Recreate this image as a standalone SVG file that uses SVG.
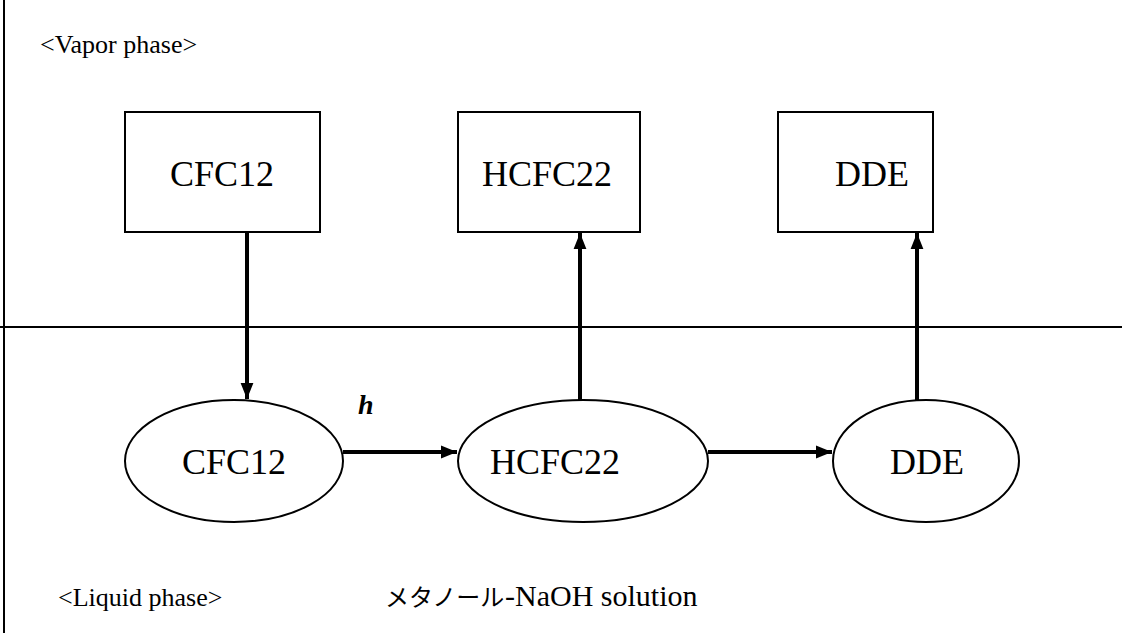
<svg xmlns="http://www.w3.org/2000/svg" width="1122" height="633" viewBox="0 0 1122 633">
<defs>
<style>
.box{fill:#fff;stroke:#000;stroke-width:2}
.lab{font-family:'Liberation Serif','Times New Roman',serif;font-size:26px;fill:#000}
.nd{font-size:36px}
.nao{font-size:30px}
.hh{font-size:28px;font-weight:bold;font-style:italic}
.jp{font-family:'Noto Sans CJK JP',sans-serif;font-size:24px;fill:#000}
.conn{stroke:#000;stroke-width:4;fill:none}
.line{stroke:#000;stroke-width:2}
</style>
<marker id="ah" viewBox="0 0 10 10" refX="10" refY="5" markerWidth="4" markerHeight="4" orient="auto" markerUnits="strokeWidth">
<path d="M0,1 L10,5 L0,9 z" fill="#000"/>
</marker>
</defs>
<rect width="1122" height="633" fill="#fff"/>
<g id="frame">
<line class="line" x1="4" y1="0" x2="4" y2="633"/>
<line class="line" x1="0" y1="327" x2="1122" y2="327"/>
</g>
<text class="lab" x="40" y="53">&lt;Vapor phase&gt;</text>
<g id="box-cfc12">
<rect class="box" x="125" y="112" width="195" height="120"/>
<text class="lab nd" x="222" y="186" text-anchor="middle">CFC12</text>
</g>
<g id="box-hcfc22">
<rect class="box" x="458" y="112" width="182" height="120"/>
<text class="lab nd" x="547" y="186" text-anchor="middle">HCFC22</text>
</g>
<g id="box-dde">
<rect class="box" x="778" y="112" width="155" height="120"/>
<text class="lab nd" x="872" y="186" text-anchor="middle">DDE</text>
</g>
<g id="ell-cfc12">
<ellipse class="box" cx="234" cy="461" rx="109" ry="61"/>
<text class="lab nd" x="234" y="474" text-anchor="middle">CFC12</text>
</g>
<g id="ell-hcfc22">
<ellipse class="box" cx="583" cy="461" rx="125" ry="61"/>
<text class="lab nd" x="555" y="474" text-anchor="middle">HCFC22</text>
</g>
<g id="ell-dde">
<ellipse class="box" cx="926" cy="461" rx="93" ry="61"/>
<text class="lab nd" x="927" y="474" text-anchor="middle">DDE</text>
</g>
<g id="connectors">
<line class="conn" x1="247" y1="232" x2="247" y2="399" marker-end="url(#ah)"/>
<line class="conn" x1="580" y1="400" x2="580" y2="233" marker-end="url(#ah)"/>
<line class="conn" x1="917" y1="400" x2="917" y2="233" marker-end="url(#ah)"/>
<line class="conn" x1="343" y1="452" x2="457" y2="452" marker-end="url(#ah)"/>
<line class="conn" x1="708" y1="452" x2="832" y2="452" marker-end="url(#ah)"/>
</g>
<text class="lab hh" x="358" y="414">h</text>
<text class="lab" x="58" y="606">&lt;Liquid phase&gt;</text>
<text class="jp" x="385" y="606">メタノール</text>
<text class="lab nao" x="505" y="606">-NaOH solution</text>
</svg>
